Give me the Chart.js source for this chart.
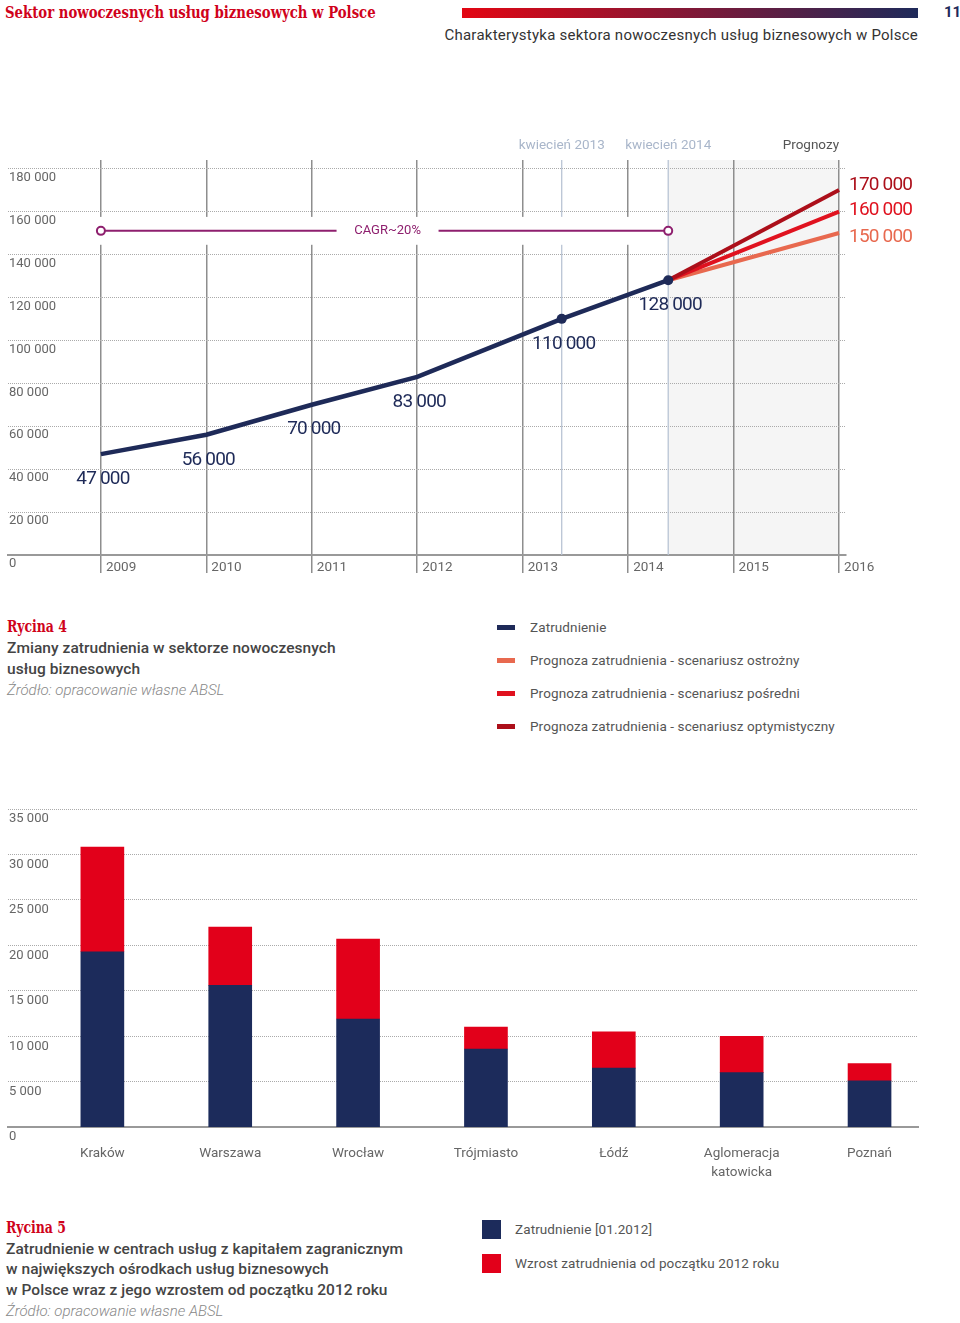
<!DOCTYPE html>
<html lang="pl">
<head>
<meta charset="utf-8">
<script src="https://cdn.jsdelivr.net/npm/chart.js@4.4.1/dist/chart.umd.min.js"></script>
<style>
  body { margin: 0; width: 960px; height: 1323px; position: relative; background: #fff; font-family: Roboto, sans-serif; overflow: hidden; }
  .t { position: absolute; white-space: nowrap; line-height: 20px; height: 20px; }
  .serif { font-family: "DejaVu Serif", serif; font-weight: bold; color: #d0021b; display: inline-block; transform: scaleX(0.78); transform-origin: left center; }
  .cap { font-size: 15.5px; font-weight: 500; color: #444; letter-spacing: 0.05px; }
  .src { font-size: 15px; font-style: italic; font-weight: 300; color: #888; }
  .leg { font-size: 13.5px; color: #555; letter-spacing: 0.1px; }
  .mark { position: absolute; }
  #box1 { position: absolute; left: 0; top: 130px; }
  #box2 { position: absolute; left: 0; top: 790px; }
</style>
</head>
<body>
<!-- naglowek strony -->
<div class="t" style="left:5px;top:2px;"><span class="serif" style="font-size:17px;">Sektor nowoczesnych usług biznesowych w Polsce</span></div>
<div style="position:absolute;left:462px;top:8px;width:456px;height:10px;background:linear-gradient(to right,#e30613,#1e2a5a);"></div>
<div class="t" style="left:944px;top:2px;font-size:15px;font-weight:bold;color:#1e2a5a;">11</div>
<div class="t" style="right:42px;top:25px;font-size:15px;color:#333;letter-spacing:0.25px;">Charakterystyka sektora nowoczesnych usług biznesowych w Polsce</div>

<div id="box1"><canvas id="lineChart" width="960" height="460"></canvas></div>

<!-- Rycina 4 -->
<div class="t" style="left:7px;top:617px;"><span class="serif" style="font-size:16px;">Rycina 4</span></div>
<div class="t cap" style="left:7px;top:638px;">Zmiany zatrudnienia w sektorze nowoczesnych</div>
<div class="t cap" style="left:7px;top:659px;">usług biznesowych</div>
<div class="t src" style="left:7px;top:680px;">Źródło: opracowanie własne ABSL</div>
<div id="legend1"></div>

<div id="box2"><canvas id="barChart" width="960" height="411"></canvas></div>

<!-- Rycina 5 -->
<div class="t" style="left:6px;top:1218px;"><span class="serif" style="font-size:16px;">Rycina 5</span></div>
<div class="t cap" style="left:6px;top:1239px;">Zatrudnienie w centrach usług z kapitałem zagranicznym</div>
<div class="t cap" style="left:6px;top:1259px;">w największych ośrodkach usług biznesowych</div>
<div class="t cap" style="left:6px;top:1280px;">w Polsce wraz z jego wzrostem od początku 2012 roku</div>
<div class="t src" style="left:6px;top:1301px;">Źródło: opracowanie własne ABSL</div>
<div id="legend2"></div>

<script>
// ---- dane: rycina 4 ----
const empYears = [2009, 2010, 2011, 2012, 2013.37, 2014.38];
const employment = [47000, 56000, 70000, 83000, 110000, 128000];
const forecastYears = [2014.38, 2016];
const forecastCautious = [128000, 150000];
const forecastMid = [128000, 160000];
const forecastOptimistic = [128000, 170000];
const yearTicks = [2009, 2010, 2011, 2012, 2013, 2014, 2015, 2016];
const empTicks = [0, 20000, 40000, 60000, 80000, 100000, 120000, 140000, 160000, 180000];
const aprilYears = [2013.37, 2014.38];
const aprilLabels = ['kwiecień 2013', 'kwiecień 2014'];
const cagrYears = [2009, 2014.38];
const cagrValue = 151000;
const cagrLabel = 'CAGR~20%';
const seriesNames1 = ['Zatrudnienie', 'Prognoza zatrudnienia - scenariusz ostrożny', 'Prognoza zatrudnienia - scenariusz pośredni', 'Prognoza zatrudnienia - scenariusz optymistyczny'];

// ---- dane: rycina 5 ----
const cities = ['Kraków', 'Warszawa', 'Wrocław', 'Trójmiasto', 'Łódź', ['Aglomeracja', 'katowicka'], 'Poznań'];
const employment2012 = [19300, 15600, 11900, 8600, 6500, 6000, 5100];
const growthSince2012 = [11500, 6400, 8800, 2400, 4000, 4000, 1900];
const barTicks = [0, 5000, 10000, 15000, 20000, 25000, 30000, 35000];
const seriesNames2 = ['Zatrudnienie [01.2012]', 'Wzrost zatrudnienia od początku 2012 roku'];

const NAVY = '#1e2a58';
const C_CAUT = '#e8694f';
const C_MID = '#e0121f';
const C_OPT = '#ac0f1a';
const PURPLE = '#8e1f6e';
const BAR_RED = '#e2001a';

function fmt(v) {
  return String(v).replace(/\B(?=(\d{3})+(?!\d))/g, ' ');
}

// legendy (HTML)
const leg1 = document.getElementById('legend1');
[NAVY, C_CAUT, C_MID, C_OPT].forEach((c, i) => {
  const cy = 627 + i * 33;
  leg1.insertAdjacentHTML('beforeend',
    `<div class="mark" style="left:497px;top:${cy - 2.5}px;width:18px;height:5px;background:${c}"></div>` +
    `<div class="t leg" style="left:530px;top:${cy - 10}px;">${seriesNames1[i]}</div>`);
});
const leg2 = document.getElementById('legend2');
['#1c2b5b', BAR_RED].forEach((c, i) => {
  const cy = 1229 + i * 34;
  leg2.insertAdjacentHTML('beforeend',
    `<div class="mark" style="left:482px;top:${cy - 9.5}px;width:19px;height:19px;background:${c}"></div>` +
    `<div class="t leg" style="left:515px;top:${cy - 10}px;">${seriesNames2[i]}</div>`);
});

// dodatki do wykresu liniowego
const lineExtras = {
  id: 'lineExtras',
  beforeDraw(chart) {
    const { ctx, chartArea: a, scales: { x } } = chart;
    const x0 = x.getPixelForValue(forecastYears[0]);
    const x1 = x.getPixelForValue(forecastYears[1]);
    ctx.save();
    ctx.fillStyle = '#f5f5f5';
    ctx.fillRect(x0, a.top, x1 - x0, a.bottom - a.top);
    ctx.restore();
  },
  beforeDatasetsDraw(chart) {
    const { ctx, chartArea: a, scales: { x, y } } = chart;
    ctx.save();
    // linie kwiecien
    ctx.strokeStyle = '#b9c4d4';
    ctx.lineWidth = 1.3;
    ctx.font = '13.5px Roboto';
    ctx.textBaseline = 'middle';
    aprilYears.forEach((yr, i) => {
      const px = x.getPixelForValue(yr);
      ctx.beginPath();
      ctx.moveTo(px, a.top);
      ctx.lineTo(px, a.bottom);
      ctx.stroke();
      ctx.fillStyle = '#a9b6ca';
      ctx.textAlign = 'center';
      ctx.fillText(aprilLabels[i], px, a.top - 14);
    });
    ctx.fillStyle = '#555';
    ctx.textAlign = 'right';
    ctx.fillText('Prognozy', x.getPixelForValue(2016), a.top - 14);
    // etykiety lat (na prawo od linii)
    ctx.fillStyle = '#666';
    ctx.textAlign = 'left';
    yearTicks.forEach(yr => {
      ctx.fillText(String(yr), x.getPixelForValue(yr) + 5, a.bottom + 13);
    });
    // przerwa w pionowych liniach wokol CAGR
    const gx0 = x.getPixelForValue(cagrYears[0]) - 6;
    const gx1 = x.getPixelForValue(cagrYears[1]) - 3;
    const gy0 = y.getPixelForValue(157500);
    const gy1 = y.getPixelForValue(144500);
    ctx.fillStyle = '#fff';
    ctx.fillRect(gx0, gy0, gx1 - gx0, gy1 - gy0);
    ctx.restore();
  },
  afterDatasetsDraw(chart) {
    const { ctx, scales: { x, y } } = chart;
    ctx.save();
    // etykieta CAGR
    const cx = x.getPixelForValue((cagrYears[0] + cagrYears[1]) / 2) + 3;
    const cy = y.getPixelForValue(cagrValue);
    ctx.fillStyle = '#fff';
    ctx.fillRect(cx - 51, cy - 4, 102, 8);
    ctx.fillStyle = PURPLE;
    ctx.font = '13px Roboto';
    ctx.textAlign = 'center';
    ctx.textBaseline = 'middle';
    ctx.fillText(cagrLabel, cx, cy);
    // etykiety wartosci
    ctx.font = '400 19px Roboto';
    ctx.letterSpacing = '-0.8px';
    ctx.fillStyle = NAVY;
    employment.forEach((v, i) => {
      ctx.fillText(fmt(v), x.getPixelForValue(empYears[i]) + 2, y.getPixelForValue(v) + 25);
    });
    ctx.textAlign = 'left';
    const ends = [[forecastOptimistic, C_OPT, -5], [forecastMid, C_MID, -1], [forecastCautious, C_CAUT, 4]];
    ends.forEach(([arr, col, dy]) => {
      const v = arr[arr.length - 1];
      ctx.fillStyle = col;
      ctx.fillText(fmt(v), x.getPixelForValue(forecastYears[1]) + 10, y.getPixelForValue(v) + dy);
    });
    ctx.restore();
  }
};

const xy = (xs, ys) => ys.map((v, i) => ({ x: xs[i], y: v }));

new Chart(document.getElementById('lineChart').getContext('2d'), {
  type: 'line',
  data: {
    datasets: [
      {
        label: seriesNames1[0],
        data: xy(empYears, employment),
        borderColor: NAVY, borderWidth: 4.5,
        pointRadius: [0, 0, 0, 0, 5, 5], pointBackgroundColor: NAVY, pointBorderWidth: 0
      },
      { label: seriesNames1[3], data: xy(forecastYears, forecastOptimistic), borderColor: C_OPT, borderWidth: 4, pointRadius: 0 },
      { label: seriesNames1[2], data: xy(forecastYears, forecastMid), borderColor: C_MID, borderWidth: 4, pointRadius: 0 },
      { label: seriesNames1[1], data: xy(forecastYears, forecastCautious), borderColor: C_CAUT, borderWidth: 4, pointRadius: 0 },
      {
        label: cagrLabel,
        data: cagrYears.map(yr => ({ x: yr, y: cagrValue })),
        borderColor: PURPLE, borderWidth: 2,
        pointRadius: 4, pointBackgroundColor: '#fff', pointBorderColor: PURPLE, pointBorderWidth: 2
      }
    ]
  },
  options: {
    responsive: false,
    animation: false,
    layout: { padding: { left: 6, right: 114, top: 30, bottom: 17 } },
    plugins: { legend: { display: false }, tooltip: { enabled: false } },
    scales: {
      x: {
        type: 'linear', min: 2008.119, max: 2016.066,
        afterBuildTicks: s => { s.ticks = yearTicks.map(v => ({ value: v })); },
        grid: { color: '#8e8e8e', lineWidth: 1.5, tickLength: 18, tickColor: '#8e8e8e', tickWidth: 1.5 },
        border: { display: true, color: '#999', width: 2 },
        ticks: { display: false }
      },
      y: {
        min: 0, max: 184000,
        afterBuildTicks: s => { s.ticks = empTicks.map(v => ({ value: v })); },
        grid: { color: '#aaa', lineWidth: 1, drawTicks: false },
        border: { display: false, dash: [1, 1] },
        ticks: { mirror: true, padding: 1, labelOffset: 9, color: '#666', font: { family: 'Roboto', size: 13 }, callback: v => fmt(v) }
      }
    }
  },
  plugins: [lineExtras]
});

new Chart(document.getElementById('barChart').getContext('2d'), {
  type: 'bar',
  data: {
    datasets: [
      { label: seriesNames2[0], data: xy(cities.map((c, i) => i), employment2012), backgroundColor: '#1c2b5b', barThickness: 43 },
      { label: seriesNames2[1], data: xy(cities.map((c, i) => i), growthSince2012), backgroundColor: BAR_RED, barThickness: 43 }
    ]
  },
  options: {
    responsive: false,
    animation: false,
    layout: { padding: { left: 6, right: 42, top: 19, bottom: 10 } },
    plugins: { legend: { display: false }, tooltip: { enabled: false } },
    scales: {
      x: {
        type: 'linear', stacked: true, offset: false, min: -0.738, max: 6.379,
        afterBuildTicks: s => { s.ticks = cities.map((c, i) => ({ value: i })); },
        grid: { display: false },
        border: { display: true, color: '#999', width: 2 },
        ticks: { padding: 9, color: '#666', font: { family: 'Roboto', size: 13.5, lineHeight: 1.4 }, callback: v => cities[v] }
      },
      y: {
        stacked: true, min: 0, max: 35000,
        afterBuildTicks: s => { s.ticks = barTicks.map(v => ({ value: v })); },
        grid: { color: '#aaa', lineWidth: 1, drawTicks: false },
        border: { display: false, dash: [1, 1] },
        ticks: { mirror: true, padding: 1, labelOffset: 10, color: '#666', font: { family: 'Roboto', size: 13 }, callback: v => fmt(v) }
      }
    }
  }
});
</script>
</body>
</html>
